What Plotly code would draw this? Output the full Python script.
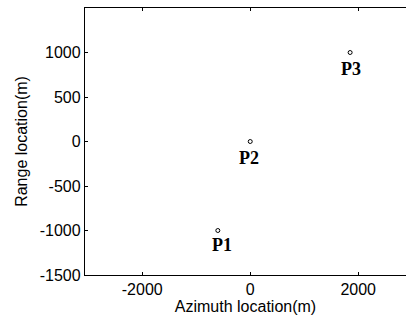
import plotly.graph_objects as go

names = ["P1", "P2", "P3"]
azimuth = [-600, 0, 1850]
range_loc = [-1000, 0, 1000]
label_x = [-530, -30, 1870]
label_y = [-1160, -190, 820]

x_ticks = [-2000, 0, 2000]
x_ticktext = ["-2000", "0", "2000"]
y_ticks = [-1500, -1000, -500, 0, 500, 1000]
y_ticktext = ["-1500", "-1000", "-500", "0", "500", "1000"]

fig = go.Figure()
fig.add_trace(go.Scatter(
    x=azimuth, y=range_loc, mode="markers",
    marker=dict(symbol="circle-open", size=4, color="black", line=dict(width=1, color="black")),
    showlegend=False, hoverinfo="skip"))

for n, lx, ly in zip(names, label_x, label_y):
    fig.add_annotation(x=lx, y=ly, text="<b>%s</b>" % n, showarrow=False,
                       font=dict(family="Liberation Serif, Times New Roman, serif", size=18, color="black"))

fig.update_layout(
    width=406, height=320,
    margin=dict(l=85, r=0, t=8, b=45),
    paper_bgcolor="white", plot_bgcolor="white",
    font=dict(family="Liberation Sans, Arial, sans-serif", size=16, color="black"),
    xaxis=dict(range=[-3060, 2885], tickvals=x_ticks, ticktext=x_ticktext, ticks="inside", ticklen=3,
               tickwidth=1, tickcolor="black", showline=True, linecolor="black", linewidth=1.3,
               mirror="ticks", showgrid=False, zeroline=False,
               title=dict(text="Azimuth location(m)", font=dict(size=16), standoff=0)),
    yaxis=dict(range=[-1500, 1500], tickvals=y_ticks, ticktext=y_ticktext, ticks="inside", ticklen=3,
               tickwidth=1, tickcolor="black", showline=True, linecolor="black", linewidth=1.3,
               mirror=False, showgrid=False, zeroline=False,
               title=dict(text="Range location(m)", font=dict(size=16), standoff=8)),
)

fig.write_html("out.html", config={"displayModeBar": False},
               post_script="document.body.style.margin='0';document.body.style.overflow='hidden';")
